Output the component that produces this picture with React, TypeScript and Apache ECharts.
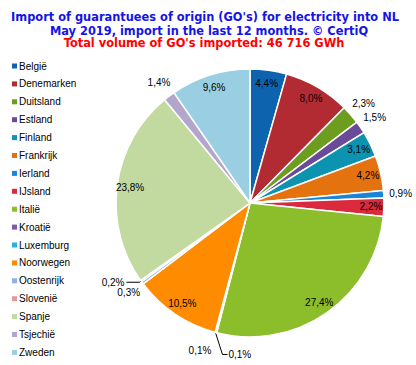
import React, { useEffect, useRef } from "react";
import * as echarts from "echarts";

const countries = ["België", "Denemarken", "Duitsland", "Estland", "Finland", "Frankrijk", "Ierland", "IJsland", "Italië", "Kroatië", "Luxemburg", "Noorwegen", "Oostenrijk", "Slovenië", "Spanje", "Tsjechië", "Zweden"];
const shares = [4.4, 8.0, 2.3, 1.5, 3.1, 4.2, 0.9, 2.2, 27.4, 0.1, 0.1, 10.5, 0.3, 0.2, 23.8, 1.4, 9.6];
const colors = ["#0E63AE", "#B22A32", "#6D9D1E", "#6A4B9A", "#0B93B0", "#E4720F", "#1A85D8", "#D92B3D", "#8CBE2B", "#7D5BAA", "#25B3DA", "#FF8C00", "#8EB2E0", "#E39A9A", "#C2D99F", "#B3A6CD", "#9ACFE3"];
// label placement: i = inside, o = outside (no line), l = outside with leader line
const labelKinds = ["i", "i", "o", "o", "i", "i", "o", "i", "i", "o", "l", "i", "o", "l", "i", "o", "i"];

const titleLines = [
  "Import of guarantuees of origin (GO's) for electricity into NL",
  "May 2019, import in the last 12 months. © CertiQ",
];
const totalLine = "Total volume of GO's imported: 46 716 GWh";

const fmt = (v: number) => v.toFixed(1).replace(".", ",") + "%";
const labelFont = { fontFamily: "Liberation Sans, Arial, sans-serif", fontSize: 10, color: "#000" };
const titleFont = "bold 11.4px 'DejaVu Sans', Verdana, sans-serif";
const CENTER = [250, 203];
const R = 134;

export default function App() {
  const ref = useRef<HTMLDivElement>(null);
  useEffect(() => {
    if (!ref.current) return;
    const chart = echarts.init(ref.current, null, { renderer: "svg" });
    const mainData = countries.map((name, i) => ({
      name,
      value: shares[i],
      itemStyle: { color: colors[i] },
      label: { show: labelKinds[i] === "l" },
      labelLine: { show: labelKinds[i] === "l" },
    }));
    const innerData = countries.map((name, i) => ({
      name,
      value: shares[i],
      label: { show: labelKinds[i] === "i" },
    }));
    const outerData = countries.map((name, i) => ({
      name,
      value: shares[i],
      label: { show: labelKinds[i] === "o" },
    }));
    const luxIndex = countries.indexOf("Luxemburg");
    const kroIndex = countries.indexOf("Kroatië");
    chart.setOption({
      animation: false,
      graphic: [
        { type: "text", x: 205, y: 17, style: { text: titleLines[0], textAlign: "center", textVerticalAlign: "middle", fill: "#1414E6", font: titleFont } },
        { type: "text", x: 209, y: 30.5, style: { text: titleLines[1], textAlign: "center", textVerticalAlign: "middle", fill: "#1414E6", font: titleFont } },
        { type: "text", x: 204, y: 43, style: { text: totalLine, textAlign: "center", textVerticalAlign: "middle", fill: "#FF0000", font: titleFont } },
      ],
      legend: {
        orient: "vertical",
        left: 7,
        top: 56,
        itemWidth: 5,
        itemHeight: 5,
        itemGap: 7.9,
        icon: "rect",
        itemStyle: { borderWidth: 0 },
        textStyle: { ...labelFont, padding: [0, 0, 0, -3] },
        data: countries,
      },
      series: [
        {
          type: "pie",
          center: CENTER,
          radius: [0, R],
          startAngle: 90,
          avoidLabelOverlap: false,
          data: mainData,
          itemStyle: { borderColor: "#fff", borderWidth: 1.5 },
          label: { position: "outside", formatter: (p: any) => fmt(p.value), ...labelFont, distanceToLabelLine: 2 },
          labelLine: { length: 2, length2: 13, lineStyle: { color: "#000", width: 1 } },
          labelLayout: (params: any) => {
            if (params.dataIndex === luxIndex && params.labelLinePoints) {
              const p0 = params.labelLinePoints[0];
              return {
                x: p0[0] + 13,
                y: p0[1] + 22,
                align: "left",
                verticalAlign: "middle",
                labelLinePoints: [p0, [p0[0] + 7, p0[1] + 22], [p0[0] + 12, p0[1] + 22]],
              };
            }
            return {};
          },
          emphasis: { disabled: true },
        },
        {
          type: "pie",
          center: CENTER,
          radius: [102, R],
          startAngle: 90,
          silent: true,
          avoidLabelOverlap: false,
          data: innerData,
          itemStyle: { color: "transparent", borderWidth: 0 },
          label: { position: "inside", formatter: (p: any) => fmt(p.value), ...labelFont },
          labelLine: { show: false },
        },
        {
          type: "pie",
          center: CENTER,
          radius: [140, 156],
          startAngle: 90,
          silent: true,
          avoidLabelOverlap: false,
          data: outerData,
          itemStyle: { color: "transparent", borderWidth: 0 },
          label: { position: "inside", formatter: (p: any) => fmt(p.value), ...labelFont },
          labelLine: { show: false },
          labelLayout: (params: any) => (params.dataIndex === kroIndex ? { dx: -12, dy: 1 } : {}),
        },
      ],
    });
    return () => chart.dispose();
  }, []);
  return <div ref={ref} style={{ width: 416, height: 365, position: "absolute", left: 0, top: 0 }} />;
}
